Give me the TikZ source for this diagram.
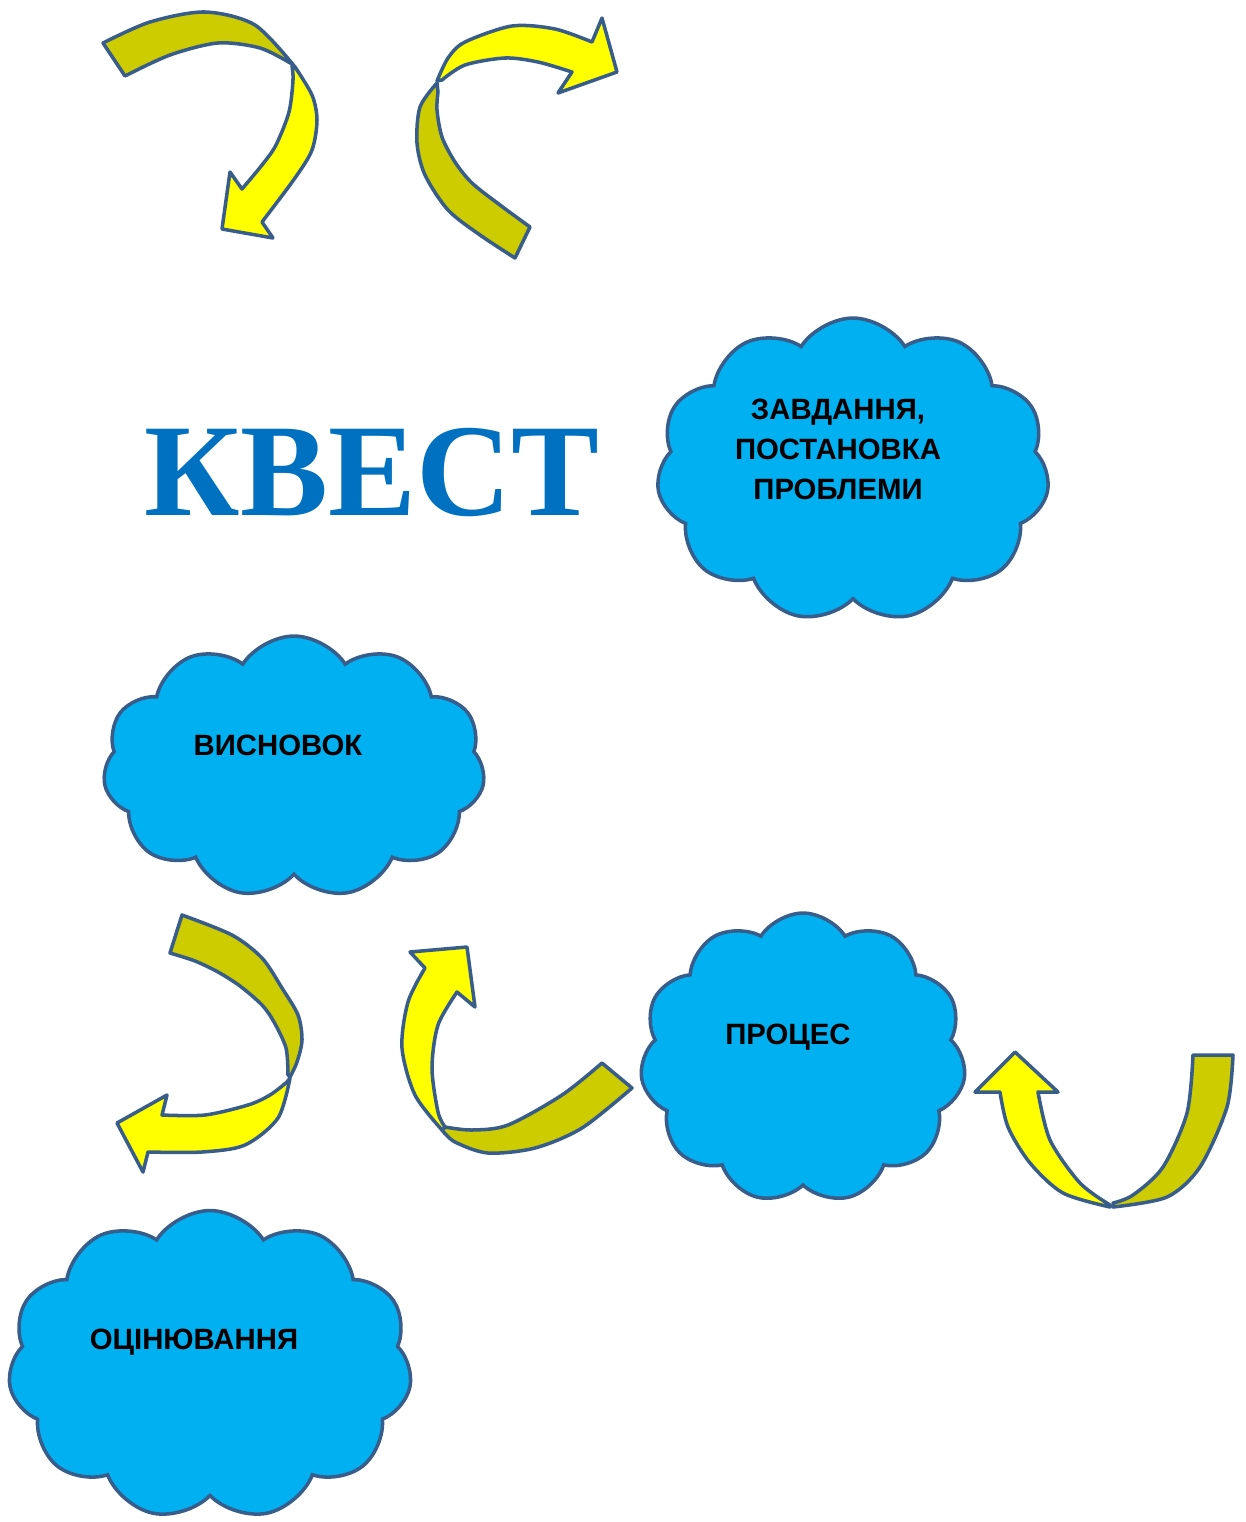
\documentclass[tikz,border=0pt]{standalone}
\usepackage{fontspec}
\usepackage{tikz}
\usetikzlibrary{shapes.symbols}
\newfontfamily\cloudfont{Liberation Sans}
\newfontfamily\titlefont{Liberation Serif}
\definecolor{edge}{RGB}{56,93,138}
\definecolor{sky}{RGB}{0,176,240}
\definecolor{lemon}{RGB}{255,255,0}
\definecolor{olivebody}{RGB}{204,204,0}
\definecolor{titleblue}{RGB}{0,112,192}
\tikzstyle{bubble} = [cloud, cloud puffs=11, cloud puff arc=115, cloud ignores aspect, draw=edge, fill=sky, line width=2pt, inner sep=0pt]
\tikzstyle{cloudtext} = [font=\cloudfont\bfseries\fontsize{16.7}{22.8}\selectfont, align=center, text=black]
\tikzstyle{tailpart} = [fill=olivebody, draw=edge, line width=2pt, line join=round]
\tikzstyle{headpart} = [fill=lemon, draw=edge, line width=2pt, line join=round]
\tikzstyle{bigtitle} = [font=\titlefont\bfseries\fontsize{75}{75}\selectfont, anchor=base, inner sep=0pt]

\begin{document}
\begin{tikzpicture}[x=0.02cm, y=-0.02cm]
        \useasboundingbox (0,0) rectangle (1246,1522);

        % top arrows
        \draw [tailpart] plot[smooth] coordinates {(103,43) (150,22) (205,12) (255,25) (295,67)}
            -- plot[smooth] coordinates {(292,64) (260,48) (218,43) (170,55) (125,76)} -- cycle;
        \draw [headpart] plot[smooth] coordinates {(295,67) (312,95) (317,120) (312,150) (295,178) (262,222)}
            -- (273,238) -- (222,229) -- (230,172) -- (242,189)
            -- plot[smooth] coordinates {(242,189) (262,165) (276,145) (289,112) (293,80) (292,66)} -- cycle;

        \draw [tailpart] plot[smooth] coordinates {(515,258) (480,235) (448,210) (425,175) (417,143) (420,107) (437,83)}
            -- plot[smooth] coordinates {(438,92) (437,110) (442,137) (455,162) (472,183) (500,205) (530,227)} -- cycle;
        \draw [headpart] plot[smooth] coordinates {(437,81) (448,58) (465,42) (512,26) (555,29) (592,42)}
            -- (602,18) -- (617,72) -- (558,93) -- (572,72)
            -- plot[smooth] coordinates {(572,72) (538,62) (505,58) (465,65) (442,80)} -- cycle;

        % title
        \node [bigtitle, text=titleblue] (title) at (372,515) {КВЕСТ};

        % clouds
        \node [bubble, minimum width=7.86cm, minimum height=6.08cm] (task) at (853,470) {};
        \node [cloudtext] (tasktext) at (838,449) {ЗАВДАННЯ,\\ПОСТАНОВКА\\ПРОБЛЕМИ};

        \node [bubble, minimum width=7.64cm, minimum height=5.24cm] (summary) at (294,767) {};
        \node [cloudtext] (summarytext) at (278,745) {ВИСНОВОК};

        \node [bubble, minimum width=6.52cm, minimum height=5.8cm] (process) at (803,1058) {};
        \node [cloudtext] (processtext) at (788,1037) {ПРОЦЕС};

        \node [bubble, minimum width=8.08cm, minimum height=6.18cm] (rating) at (210,1365) {};
        \node [cloudtext] (ratingtext) at (194,1342) {ОЦІНЮВАННЯ};

        % bottom arrows
        \draw [tailpart] plot[smooth] coordinates {(182,915) (232,935) (262,958) (282,988) (298,1015) (302,1040) (297,1062) (290,1077)}
            -- plot[smooth] coordinates {(288,1075) (286,1048) (274,1022) (262,1005) (240,986) (218,972) (195,961) (170,953)} -- cycle;
        \draw [headpart] plot[smooth] coordinates {(290,1078) (278,1118) (245,1145) (202,1152) (148,1152)}
            -- (143,1172) -- (117,1123) -- (167,1095) -- (162,1115)
            -- plot[smooth] coordinates {(162,1115) (205,1115) (248,1105) (270,1095) (287,1082)} -- cycle;

        \draw [tailpart] plot[smooth] coordinates {(632,1088) (582,1128) (535,1148) (488,1153) (455,1142) (442,1130)}
            -- plot[smooth] coordinates {(445,1127) (472,1130) (508,1125) (562,1095) (602,1063)} -- cycle;
        \draw [headpart] plot[smooth] coordinates {(442,1130) (415,1095) (402,1048) (408,1002) (425,968)}
            -- (410,952) -- (467,947) -- (475,1007) -- (457,992)
            -- plot[smooth] coordinates {(457,992) (438,1025) (432,1068) (438,1112) (445,1127)} -- cycle;

        \draw [tailpart] plot[smooth] coordinates {(1233,1055) (1227,1107) (1200,1167) (1167,1197) (1113,1207)}
            -- plot[smooth] coordinates {(1113,1203) (1133,1195) (1163,1167) (1187,1113) (1193,1055)} -- cycle;
        \draw [headpart] plot[smooth] coordinates {(1110,1207) (1063,1193) (1030,1163) (1008,1127) (1000,1092)}
            -- (975,1092) -- (1015,1052) -- (1058,1092) -- (1038,1092)
            -- plot[smooth] coordinates {(1038,1092) (1050,1140) (1080,1183) (1110,1205)} -- cycle;
\end{tikzpicture}
\end{document}
